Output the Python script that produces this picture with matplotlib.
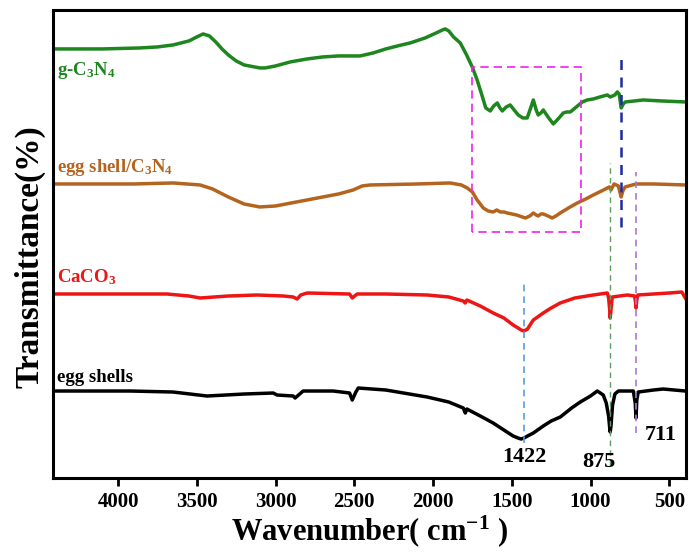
import matplotlib
matplotlib.use("Agg")
import matplotlib.pyplot as plt

plt.rcParams['font.family'] = ['Liberation Serif', 'DejaVu Serif']
plt.rcParams['font.weight'] = 'bold'
plt.rcParams['mathtext.fontset'] = 'custom'
plt.rcParams['mathtext.rm'] = 'Liberation Serif:bold'
plt.rcParams['mathtext.bf'] = 'Liberation Serif:bold'
plt.rcParams['mathtext.default'] = 'bf'

# spectra, offset transmittance (a.u.)
g_wn = [4413, 4100, 3860, 3750, 3650, 3550, 3500, 3460, 3420, 3380, 3340, 3300, 3250, 3200,
        3100, 3066, 3000, 2907, 2800, 2700, 2600, 2463, 2380, 2300, 2200, 2145, 2050, 1980,
        1940, 1923, 1900, 1870, 1827, 1790, 1751, 1720, 1690, 1665, 1637, 1615, 1592, 1575,
        1560, 1535, 1510, 1485, 1459, 1430, 1402, 1380, 1363, 1345, 1332, 1315, 1300, 1270,
        1236, 1200, 1173, 1150, 1128, 1090, 1052, 1020, 982, 940, 893, 875, 845, 830, 818,
        805, 792, 779, 720, 665, 550, 398]
g_t = [429, 429, 430, 431, 433, 437, 441, 444, 442, 436, 429, 423, 417, 413,
       410, 410, 412, 416, 419, 421, 422, 422, 425, 429, 433, 435, 440, 445,
       448, 449, 447, 441, 435, 424, 411, 398, 383, 370, 367, 372, 375, 370,
       367, 371, 373, 368, 363, 360, 360, 370, 378, 368, 363, 365, 368, 361,
       354, 360, 365, 366, 366, 371, 376, 378, 379, 381, 383, 381, 383, 386, 384,
       370, 374, 376, 377, 378, 377, 376]

es_wn = [4413, 3900, 3650, 3479, 3400, 3300, 3200, 3100, 3000, 2800, 2600, 2507, 2450, 2399,
         2100, 1891, 1820, 1783, 1750, 1720, 1681, 1650, 1618, 1595, 1573, 1550, 1529, 1470,
         1414, 1385, 1363, 1345, 1332, 1315, 1300, 1270, 1243, 1220, 1192, 1140, 1084, 1030,
         982, 930, 893, 880, 870, 850, 823, 812, 805, 795, 780, 711, 600, 398]
es_t = [294, 294, 295, 293, 289, 281, 274, 271, 272, 278, 284, 288, 292, 293,
        294, 295, 293, 290, 286, 278, 270, 267, 266, 268, 266, 266, 265, 263,
        260, 262, 265, 263, 262, 264, 264, 262, 260, 262, 265, 270, 275, 279,
        283, 287, 290, 291, 288, 294, 292, 285, 281, 287, 291, 294, 294, 293]

ca_wn = [4413, 3689, 3550, 3479, 3300, 3117, 2950, 2888, 2863, 2840, 2799, 2530, 2513, 2482,
         2300, 2037, 1900, 1808, 1796, 1785, 1700, 1618, 1550, 1491, 1460, 1440, 1422, 1400,
         1380, 1363, 1300, 1250, 1192, 1100, 982, 893, 885, 878, 875, 870, 862, 766, 720,
         714, 711, 706, 700, 500, 420, 398]
ca_t = [184, 184, 182, 180, 182, 183, 182, 181, 179, 183, 185, 184, 180, 184,
        184, 183, 181, 177, 175, 178, 172, 165, 160, 153, 150, 148, 147, 149,
        154, 158, 165, 170, 175, 180, 183, 185, 180, 168, 160, 168, 181, 183, 182,
        176, 170, 178, 183, 185, 186, 180]

egg_wn = [4413, 3924, 3651, 3435, 3200, 3015, 2990, 2888, 2876, 2825, 2634, 2530, 2513, 2490,
          2475, 2300, 2037, 1900, 1808, 1795, 1785, 1700, 1618, 1550, 1491, 1460, 1440, 1422,
          1400, 1363, 1300, 1250, 1192, 1120, 1065, 1000, 957, 919, 900, 885, 878, 875, 870,
          860, 845, 823, 728, 716, 711, 706, 697, 600, 538, 398]
egg_t = [87, 87, 86, 82, 84, 85, 83, 82, 80, 87, 87, 85, 78, 86,
         90, 88, 81, 76, 70, 65, 69, 62, 55, 48, 42, 40, 39, 40,
         42, 45, 52, 57, 61, 70, 76, 82, 87, 83, 75, 62, 50, 46, 52,
         73, 84, 87, 87, 75, 60, 78, 86, 88, 89, 87]

names = ['g-C$_3$N$_4$', 'egg shell/C$_3$N$_4$', 'CaCO$_3$', 'egg shells']
colors = ['#1e861e', '#b4641e', '#ee1515', 'black']
label_t = [407, 310, 201, 101]

# marker lines: wavenumber, bottom, top, colour
peak_wn = [1422, 875, 711, 805]
peak_lo = [35, 13, 45, 251]
peak_hi = [196, 315, 306, 423]
peak_col = ['#5b9be0', '#5e9e5e', '#a77ad0', '#1f2aa0']
peak_lw = [1.2, 1.0, 1.2, 1.8]

peak_labels = ['1422', '875', '711']
peak_label_wn = [1422, 950, 557]
peak_label_t = [21, 16, 43]

box_wn = [1751, 1058]
box_t = [246, 411]

fig = plt.figure(figsize=(6.89, 5.52), dpi=100)
ax = fig.add_axes([0.077, 0.134, 0.919, 0.848])

for wn, t, c in zip([g_wn, es_wn, ca_wn, egg_wn], [g_t, es_t, ca_t, egg_t], colors):
    ax.plot(wn, t, color=c, lw=2.5, solid_joinstyle='round')

for name, c, yt in zip(names, colors, label_t):
    ax.text(4385, yt, name, color=c, fontsize=13.5, fontweight='bold', va='center', ha='left')

for wn, lo, hi, c, lw in zip(peak_wn, peak_lo, peak_hi, peak_col, peak_lw):
    ax.vlines(wn, lo, hi, colors=c, linestyles=(0, (4, 3)), lw=lw)

for s, wn, yt in zip(peak_labels, peak_label_wn, peak_label_t):
    ax.text(wn, yt, s, fontsize=16, fontweight='bold', ha='center', va='center')

ax.plot([box_wn[0], box_wn[0], box_wn[1], box_wn[1], box_wn[0]],
        [box_t[0], box_t[1], box_t[1], box_t[0], box_t[0]],
        color='#ee22ee', ls=(0, (5, 3)), lw=1.2)

ax.set_xlim(4413, 392)
ax.set_ylim(0, 468)
ax.set_xticks([4000, 3500, 3000, 2500, 2000, 1500, 1000, 500])
ax.set_yticks([])
ax.tick_params(axis='x', direction='out', length=6, width=2, labelsize=15, pad=4)
for lab in ax.get_xticklabels():
    lab.set_fontweight('bold')
for sp in ax.spines.values():
    sp.set_linewidth(2.2)

ax.set_xlabel('Wavenumber( cm$^{-1}$ )', fontsize=22, fontweight='bold', labelpad=1)
ax.set_ylabel('Transmittance(%)', fontsize=24, fontweight='bold')
ax.yaxis.set_label_coords(-0.012, 0.472)

fig.savefig('out.png', dpi=100)
